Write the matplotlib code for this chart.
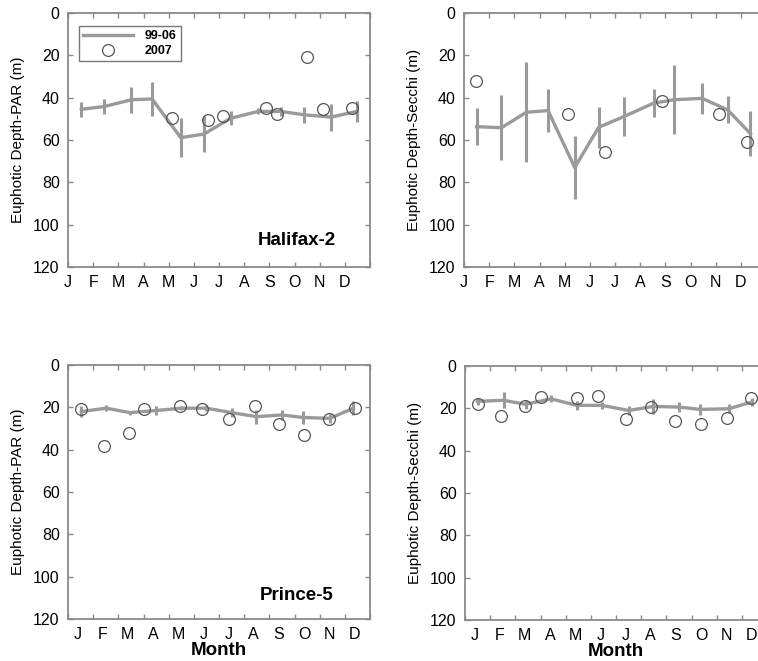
import matplotlib.pyplot as plt
from matplotlib.lines import Line2D

plt.rcParams['font.family'] = ['Liberation Sans', 'DejaVu Sans']

months = ["J", "F", "M", "A", "M", "J", "J", "A", "S", "O", "N", "D"]

# Halifax-2, PAR: 1999-2006 climatology (month position, mean, sd) and 2007 samples
hal_par_t = [0.53, 1.43, 2.52, 3.34, 4.48, 5.40, 6.47, 7.56, 8.45, 9.39, 10.45, 11.47]
hal_par_mean = [45.5, 44.2, 41.0, 40.6, 58.9, 57.2, 49.7, 46.5, 46.5, 48.1, 49.2, 46.5]
hal_par_sd = [3.6, 3.7, 6.2, 8.0, 9.2, 8.7, 3.2, 1.4, 2.0, 3.9, 6.4, 5.0]
hal_par_07_t = [4.14, 5.58, 6.14, 7.86, 8.29, 9.51, 10.12, 11.27]
hal_par_07 = [49.7, 50.5, 48.6, 45.0, 47.8, 21.0, 45.3, 45.0]

# Halifax-2, Secchi
hal_sec_t = [0.50, 1.49, 2.48, 3.34, 4.40, 5.35, 6.34, 7.53, 8.34, 9.46, 10.48, 11.38]
hal_sec_mean = [53.7, 54.2, 46.9, 46.1, 73.0, 54.0, 49.0, 42.6, 41.0, 40.3, 45.8, 57.0]
hal_sec_sd = [8.8, 15.4, 23.6, 10.0, 14.7, 9.6, 9.2, 6.7, 16.2, 7.2, 6.4, 10.6]
hal_sec_07_t = [0.48, 4.14, 5.59, 7.87, 10.12, 11.24]
hal_sec_07 = [32.0, 47.8, 65.5, 41.8, 47.8, 60.8]

# Prince-5, PAR
pr_par_t = [0.53, 1.52, 2.45, 3.51, 4.50, 5.50, 6.50, 7.49, 8.49, 9.35, 10.41, 11.34]
pr_par_mean = [22.0, 20.4, 22.5, 21.5, 20.4, 20.4, 22.5, 24.4, 23.6, 24.8, 25.2, 20.4]
pr_par_sd = [2.4, 1.5, 1.0, 2.3, 1.0, 1.5, 2.2, 3.3, 2.4, 2.9, 2.2, 3.3]
pr_par_07_t = [0.53, 1.43, 2.41, 3.01, 4.47, 5.33, 6.41, 7.43, 8.40, 9.38, 10.38, 11.40]
pr_par_07 = [20.8, 38.2, 32.2, 20.8, 19.2, 20.8, 25.6, 19.2, 27.8, 33.0, 25.5, 20.4]

# Prince-5, Secchi
pr_sec_t = [0.50, 1.53, 2.41, 3.41, 4.44, 5.44, 6.50, 7.49, 8.49, 9.35, 10.48, 11.40]
pr_sec_mean = [16.7, 16.2, 18.1, 15.5, 18.6, 18.6, 21.0, 19.1, 19.4, 20.5, 20.2, 17.0]
pr_sec_sd = [1.8, 3.7, 2.2, 1.6, 2.0, 1.8, 2.0, 3.5, 2.2, 2.6, 2.1, 1.8]
pr_sec_07_t = [0.53, 1.42, 2.39, 3.01, 4.44, 5.30, 6.40, 7.40, 8.36, 9.39, 10.41, 11.37]
pr_sec_07 = [17.8, 23.8, 18.9, 14.7, 15.0, 14.3, 24.9, 19.4, 26.2, 27.3, 24.4, 15.0]

LINE = '#9a9a9a'
SPINE = '#8a8a8a'
CIRCLE = '#555555'

fig = plt.figure(figsize=(7.58, 6.61), dpi=100)
W, H = 758, 661


def make_ax(left, top):
    # position in pixels from the top-left corner, 302 x 254 px box
    return fig.add_axes([left / W, (H - top - 254) / H, 302 / W, 254 / H])


def panel(ax, t, mean, sd, t07, v07, ylabel, mid_labels):
    ax.errorbar(t, mean, yerr=sd, color=LINE, lw=2.4, elinewidth=2.2,
                capsize=0, zorder=2)
    ax.plot(t07, v07, 'o', mfc='none', mec=CIRCLE, mew=0.9, ms=8.5, zorder=3)
    ax.set_xlim(0, 12)
    ax.set_ylim(120, 0)
    ax.set_yticks(range(0, 121, 20))
    ax.set_xticks(range(0, 13))
    if mid_labels:
        ax.set_xticks([m + 0.38 for m in range(12)], months, minor=True)
        ax.set_xticklabels([''] * 13)
        ax.tick_params(axis='x', which='minor', length=0, labelsize=11.5, pad=6)
    else:
        ax.set_xticklabels(months + [''])
    for s in ax.spines.values():
        s.set_color(SPINE)
        s.set_linewidth(1.3)
    ax.tick_params(direction='in', length=3.5, width=1, color=SPINE,
                   top=True, right=True, labelsize=11.5, pad=6)
    ax.set_ylabel(ylabel, fontsize=11, labelpad=6)


ax1 = make_ax(68, 13)
panel(ax1, hal_par_t, hal_par_mean, hal_par_sd, hal_par_07_t, hal_par_07,
      'Euphotic Depth-PAR (m)', False)
ax1.text(9.1, 107.5, 'Halifax-2', fontsize=13.5, fontweight='bold',
         ha='center', va='center')
handles = [Line2D([], [], color=LINE, lw=2.4),
           Line2D([], [], ls='none', marker='o', mfc='none', mec=CIRCLE,
                  mew=0.9, ms=8.5)]
leg = ax1.legend(handles, ['99-06', '2007'], loc='upper left',
                 bbox_to_anchor=(0.015, 0.975), fancybox=False,
                 edgecolor='#555555', handlelength=4.0, borderpad=0.35,
                 labelspacing=0.25, handletextpad=0.9,
                 prop={'weight': 'bold', 'size': 9})
leg.get_frame().set_linewidth(1.0)

ax2 = make_ax(464, 13)
panel(ax2, hal_sec_t, hal_sec_mean, hal_sec_sd, hal_sec_07_t, hal_sec_07,
      'Euphotic Depth-Secchi (m)', False)

ax3 = make_ax(68, 365)
panel(ax3, pr_par_t, pr_par_mean, pr_par_sd, pr_par_07_t, pr_par_07,
      'Euphotic Depth-PAR (m)', True)
ax3.text(9.1, 109, 'Prince-5', fontsize=13.5, fontweight='bold',
         ha='center', va='center')

ax4 = make_ax(465, 366)
panel(ax4, pr_sec_t, pr_sec_mean, pr_sec_sd, pr_sec_07_t, pr_sec_07,
      'Euphotic Depth-Secchi (m)', True)

for ax in (ax3, ax4):
    ax.set_xlabel('Month', fontsize=13.5, fontweight='bold')
    ax.xaxis.set_label_coords(0.5, -0.092)

fig.savefig('out.png', dpi=100)
